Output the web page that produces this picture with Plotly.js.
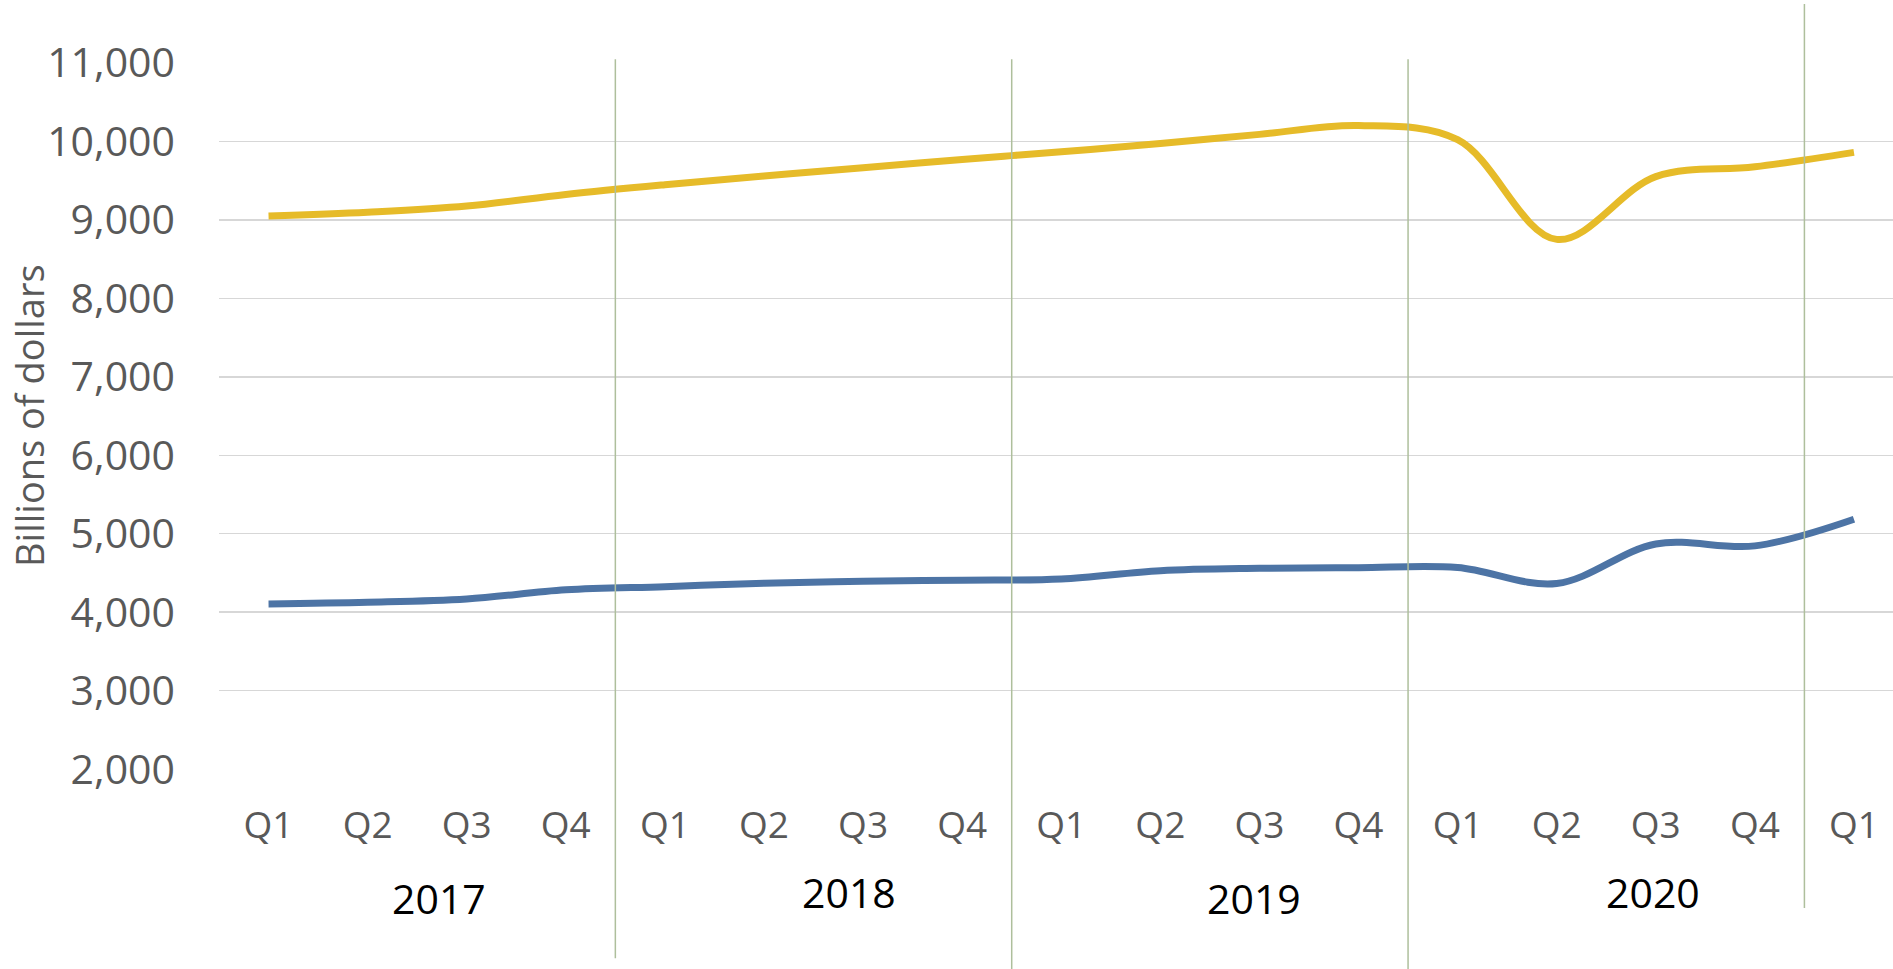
<!DOCTYPE html>
<html>
<head>
<meta charset="utf-8">
<script src="https://cdn.plot.ly/plotly-3.0.1.min.js"></script>
<style>
  html, body { margin: 0; padding: 0; background: #ffffff; }
  #chart { width: 1893px; height: 969px; }
</style>
</head>
<body>
<div id="chart"></div>
<script>
// ---- data ----
const quarters = ['Q1','Q2','Q3','Q4','Q1','Q2','Q3','Q4','Q1','Q2','Q3','Q4','Q1','Q2','Q3','Q4','Q1'];
const years    = ['2017','2017','2017','2017','2018','2018','2018','2018','2019','2019','2019','2019','2020','2020','2020','2020','2021'];
const yearLabels = ['2017','2018','2019','2020'];
const goldSeries = [9047, 9096, 9174, 9323, 9446, 9557, 9662, 9769, 9866, 9973, 10088, 10200, 10020, 8750, 9550, 9675, 9859];
const blueSeries = [4106, 4127, 4169, 4285, 4326, 4369, 4395, 4408, 4424, 4530, 4560, 4568, 4570, 4366, 4870, 4845, 5185];
const yTicks = [2000, 3000, 4000, 5000, 6000, 7000, 8000, 9000, 10000, 11000];
const yTitle = 'Billions of dollars';

// ---- styling / placement constants ----
const FONT = 'Open Sans, Noto Sans, sans-serif';
const GOLD = '#e6bb29';
const BLUE = '#4d74a5';
const SEP = '#aebf9c';
const yearLabelOffset = [0.22, 0.36, 0.45, 0.47];
const yearLabelY = [-0.181, -0.172, -0.181, -0.172];
const sepExtent = [[-0.266, 1.004], [-0.285, 1.004], [-0.285, 1.004], [-0.195, 1.082]];

const xIdx = quarters.map((_, i) => i);

// year boundaries from the data
const boundaries = [];
for (let i = 1; i < years.length; i++) {
  if (years[i] !== years[i - 1]) boundaries.push(i - 0.5);
}
const shapes = boundaries.map((b, k) => ({
  type: 'line', xref: 'x', yref: 'paper',
  x0: b, x1: b, y0: sepExtent[k][0], y1: sepExtent[k][1],
  line: { color: SEP, width: 1.5 }, layer: 'above'
}));

const annotations = yearLabels.map((yr, k) => {
  const idx = xIdx.filter(i => years[i] === yr);
  const center = idx.reduce((a, b) => a + b, 0) / idx.length;
  return {
    text: yr, xref: 'x', yref: 'paper',
    x: center + yearLabelOffset[k], y: yearLabelY[k],
    showarrow: false, xanchor: 'center', yanchor: 'middle',
    font: { family: FONT, size: 41, color: '#000000' }
  };
});
// y-axis title as rotated text
annotations.push({
  text: yTitle, xref: 'paper', yref: 'paper',
  x: -0.1135, y: 0.5, textangle: -90,
  showarrow: false, xanchor: 'center', yanchor: 'middle',
  font: { family: FONT, size: 38, color: '#595959' }
});

const traces = [
  { x: xIdx, y: goldSeries, type: 'scatter', mode: 'lines', name: 'Series 1',
    line: { color: GOLD, width: 7, shape: 'spline', smoothing: 1 }, hoverinfo: 'y' },
  { x: xIdx, y: blueSeries, type: 'scatter', mode: 'lines', name: 'Series 2',
    line: { color: BLUE, width: 7, shape: 'spline', smoothing: 1 }, hoverinfo: 'y' }
];

const layout = {
  width: 1893, height: 969,
  margin: { l: 219, r: 0, t: 62, b: 199, pad: 0 },
  paper_bgcolor: '#ffffff', plot_bgcolor: '#ffffff',
  showlegend: false,
  font: { family: FONT, color: '#595959' },
  xaxis: {
    range: [-0.5, 16.394],
    tickmode: 'array', tickvals: xIdx, ticktext: quarters,
    showgrid: false, zeroline: false, showline: false, ticks: '',
    tickfont: { family: FONT, size: 37, color: '#595959' },
    ticklabelstandoff: 30, fixedrange: true
  },
  yaxis: {
    range: [1990, 11010],
    tickmode: 'array', tickvals: yTicks,
    tickformat: ',d',
    showgrid: true, gridcolor: '#d7d7d7', gridwidth: 1.5,
    zeroline: false, showline: false, ticks: '',
    tickfont: { family: FONT, size: 41, color: '#595959' },
    ticklabelstandoff: 43,
    automargin: false, fixedrange: true
  },
  shapes: shapes,
  annotations: annotations
};

Plotly.newPlot('chart', traces, layout, { displayModeBar: false, staticPlot: true });
</script>
</body>
</html>
